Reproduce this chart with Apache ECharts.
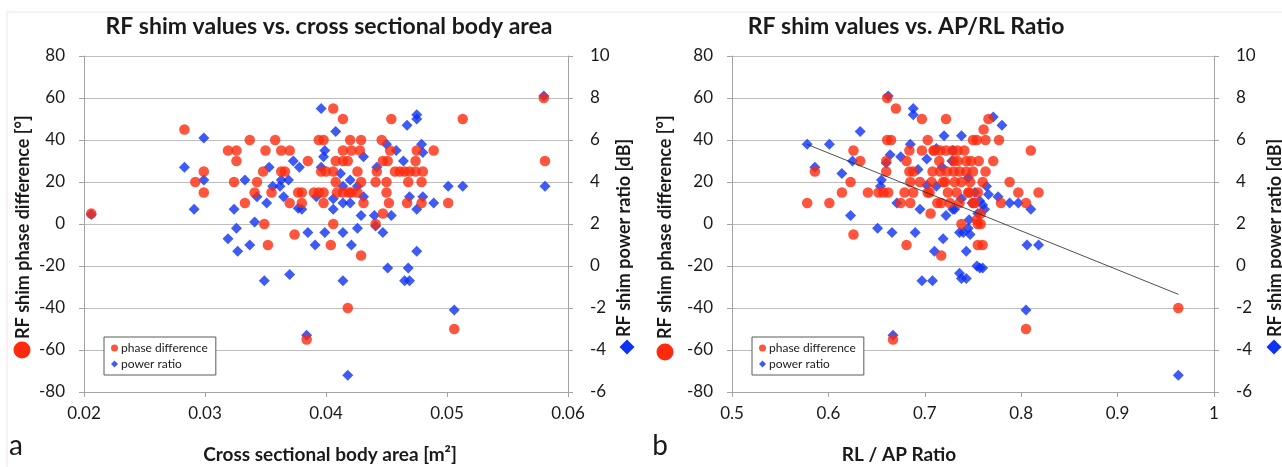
<!DOCTYPE html>
<html>
<head>
<meta charset="utf-8">
<script src="https://cdn.jsdelivr.net/npm/echarts@6/dist/echarts.min.js"></script>
<style>
html,body{margin:0;padding:0;background:#fff;}
#c{width:1282px;height:467px;}
</style>
</head>
<body>
<div id="c"></div>
<script>
// ---- data (panel a: cross sectional body area [m2]) ----
var areaPhase = [
[0.0206,5],[0.0283,45],[0.0292,20],[0.0299,25],[0.0299,15],[0.0319,35],[0.0326,35],[0.0326,30],
[0.0324,20],[0.0333,10],[0.0337,40],[0.0341,15],[0.0343,20],[0.0348,25],[0.0350,35],[0.0349,0],
[0.0352,-10],[0.0355,15],[0.0358,40],[0.0363,35],[0.0370,35],[0.0363,25],[0.0366,25],[0.0370,10],
[0.0374,-5],[0.0377,15],[0.0380,15],[0.0380,10],[0.0385,30],[0.0384,-55],[0.0390,15],[0.0394,15],
[0.0398,15],[0.0394,40],[0.0398,40],[0.0396,25],[0.0400,25],[0.0406,25],[0.0398,10],[0.0404,-10],
[0.0406,55],[0.0406,0],[0.0408,30],[0.0408,20],[0.0409,15],[0.0414,15],[0.0419,15],[0.0421,15],
[0.0426,15],[0.0414,50],[0.0414,35],[0.0421,35],[0.0428,35],[0.0414,30],[0.0418,30],[0.0420,40],
[0.0418,-40],[0.0426,25],[0.0429,40],[0.0429,20],[0.0429,-15],[0.0431,10],[0.0441,20],[0.0441,0],
[0.0442,25],[0.0446,40],[0.0447,30],[0.0447,5],[0.0450,20],[0.0450,15],[0.0451,30],[0.0452,10],
[0.0453,35],[0.0454,50],[0.0457,25],[0.0461,25],[0.0465,25],[0.0469,25],[0.0474,25],[0.0480,25],
[0.0467,10],[0.0468,20],[0.0474,30],[0.0475,35],[0.0479,20],[0.0479,10],[0.0489,35],[0.0501,10],
[0.0506,-50],[0.0513,50],[0.0580,60],[0.0581,30]
];
var areaPower = [
[0.0206,2.45],[0.0283,4.7],[0.0291,2.7],[0.0299,6.1],[0.0299,4.1],[0.0319,1.3],[0.0324,2.7],[0.0326,1.8],
[0.0327,0.7],[0.0333,4.1],[0.0337,1.0],[0.0341,2.1],[0.0343,3.3],[0.0349,-0.7],[0.0351,3.0],[0.0353,4.7],
[0.0356,3.8],[0.0362,3.8],[0.0363,4.1],[0.0365,3.3],[0.0369,4.1],[0.0370,-0.4],[0.0373,5.0],[0.0378,4.7],
[0.0377,2.75],[0.0380,2.7],[0.0384,-3.3],[0.0385,1.6],[0.0391,1.0],[0.0392,3.3],[0.0396,7.5],[0.0396,4.7],
[0.0398,5.2],[0.0399,5.5],[0.0399,1.6],[0.0406,3.2],[0.0406,2.7],[0.0408,6.4],[0.0412,4.4],[0.0414,3.8],
[0.0414,3.0],[0.0414,1.6],[0.0414,-0.7],[0.0418,-5.2],[0.0420,4.1],[0.0420,3.0],[0.0421,1.0],[0.0426,3.8],
[0.0426,1.8],[0.0429,2.4],[0.0431,5.2],[0.0431,3.3],[0.0440,2.4],[0.0441,1.9],[0.0442,4.7],[0.0447,1.6],
[0.0450,5.8],[0.0451,-0.1],[0.0454,2.4],[0.0458,5.5],[0.0464,5.0],[0.0465,-0.7],[0.0467,6.7],[0.0468,-0.1],
[0.0469,3.3],[0.0469,-0.7],[0.0475,7.2],[0.0475,7.0],[0.0475,2.7],[0.0475,0.7],[0.0479,5.8],[0.0480,5.4],
[0.0480,3.3],[0.0489,3.0],[0.0501,3.8],[0.0506,-2.1],[0.0513,3.8],[0.0580,8.1],[0.0581,3.8]
];
// ---- data (panel b: RL / AP ratio) ----
var ratioPhase = [
[0.578,10],[0.586,25],[0.601,10],[0.614,15],[0.623,20],[0.626,35],[0.626,-5],[0.633,30],[0.641,15],
[0.652,15],[0.657,15],[0.662,15],[0.660,30],[0.660,25],[0.661,60],[0.661,40],[0.665,40],[0.667,-55],
[0.670,55],[0.675,10],[0.679,15],[0.681,30],[0.681,-10],[0.684,35],[0.684,25],[0.685,20],[0.685,10],
[0.688,25],[0.688,15],[0.695,20],[0.697,50],[0.697,35],[0.703,40],[0.703,15],[0.705,15],[0.706,5],
[0.707,20],[0.708,25],[0.709,35],[0.710,35],[0.713,10],[0.715,30],[0.716,35],[0.716,25],[0.717,10],
[0.717,-15],[0.719,20],[0.721,20],[0.722,50],[0.722,35],[0.723,25],[0.724,15],[0.726,10],[0.729,35],
[0.730,30],[0.730,25],[0.731,20],[0.733,15],[0.734,30],[0.734,35],[0.736,25],[0.736,10],[0.738,20],
[0.738,0],[0.741,35],[0.743,30],[0.743,25],[0.745,15],[0.746,15],[0.747,20],[0.748,30],[0.750,40],
[0.750,25],[0.750,10],[0.752,10],[0.754,40],[0.754,2],[0.755,15],[0.755,0],[0.755,-10],[0.756,30],
[0.758,5],[0.758,0],[0.760,20],[0.760,-10],[0.761,45],[0.763,40],[0.763,25],[0.766,50],[0.771,30],
[0.777,40],[0.779,10],[0.788,20],[0.797,15],[0.805,10],[0.805,-50],[0.810,35],[0.818,15],[0.963,-40]
];
var ratioPower = [
[0.578,5.8],[0.586,4.7],[0.601,5.8],[0.614,4.4],[0.623,2.4],[0.625,5.0],[0.633,6.4],[0.651,1.8],
[0.655,4.1],[0.654,3.8],[0.660,4.9],[0.662,8.1],[0.664,5.3],[0.666,1.6],[0.667,-3.3],[0.671,3.0],
[0.675,5.2],[0.685,5.8],[0.688,7.5],[0.688,7.2],[0.690,1.6],[0.693,4.6],[0.695,2.7],[0.697,-0.7],
[0.702,5.1],[0.702,3.85],[0.708,-0.7],[0.710,0.7],[0.712,5.6],[0.712,3.8],[0.718,4.7],[0.719,1.3],
[0.720,6.2],[0.722,2.4],[0.728,5.0],[0.729,5.5],[0.729,2.7],[0.731,2.7],[0.736,1.6],[0.736,-0.35],
[0.738,3.2],[0.738,-0.6],[0.738,6.2],[0.740,1.6],[0.743,0.7],[0.743,-0.6],[0.745,4.2],[0.745,1.8],
[0.746,2.2],[0.747,1.5],[0.749,3.0],[0.752,3.5],[0.754,0.0],[0.755,2.5],[0.757,3.1],[0.757,-0.1],
[0.760,2.9],[0.760,-0.1],[0.762,2.7],[0.764,3.8],[0.766,3.4],[0.771,7.1],[0.776,3.3],[0.780,6.7],
[0.788,3.0],[0.797,3.0],[0.805,-2.1],[0.806,1.0],[0.810,2.7],[0.818,1.0],[0.963,-5.2]
];
var trendB = [[0.578,5.79],[0.963,-1.35]];
var phaseTicks = {min:-80, max:80, interval:20};
var powerTicks = {min:-6, max:10, interval:2};

var RED = '#fd2a0e', BLUE = '#0e32f2';
var FF = 'Lato, "Open Sans", sans-serif';
var AX = '#a4a4a4', GRID = '#bdbdbd', TXT = '#1a1a1a';

var chart = echarts.init(document.getElementById('c'), null, {renderer:'canvas'});

function xAx(idx, min, max, iv, fmt){
  return {type:'value', gridIndex:idx, min:min, max:max, interval:iv,
    axisLine:{show:true, onZero:false, lineStyle:{color:AX}},
    axisTick:{show:true, length:5, lineStyle:{color:AX}},
    splitLine:{show:false},
    axisLabel:{fontSize:17, margin:13, color:TXT, fontFamily:FF, formatter:fmt}};
}
function yAx(idx, t, pos, grid){
  return {type:'value', gridIndex:idx, position:pos, min:t.min, max:t.max, interval:t.interval,
    axisLine:{show:true, onZero:false, lineStyle:{color:AX}},
    axisTick:{show:true, length:5, lineStyle:{color:AX}},
    splitLine:{show:grid, lineStyle:{color:GRID, width:1}},
    axisLabel:{fontSize:17, margin:pos==='right'?22:19, color:TXT, fontFamily:FF}};
}
function legendAt(left){
  return {left:left, top:337, orient:'vertical', selectedMode:false,
    data:[{name:'phase difference', icon:'circle'},{name:'power ratio', icon:'diamond'}],
    itemWidth:7, itemHeight:7, itemGap:4, padding:[5,8,5,7],
    borderColor:'#5a5a5a', borderWidth:1, backgroundColor:'#fff',
    textStyle:{fontSize:12, fontFamily:FF, color:TXT, padding:[0,0,0,-2]}};
}
function diamond(cx, cy, r){
  return {type:'polygon', shape:{points:[[cx,cy-r],[cx+r,cy],[cx,cy+r],[cx-r,cy]]}, style:{fill:BLUE}};
}
function vtext(x, y, s){
  return {type:'text', x:x, y:y, rotation:Math.PI/2,
    style:{text:s, fill:TXT, fontSize:18, fontWeight:'bold', fontFamily:FF, align:'left', verticalAlign:'middle'}};
}
function htext(x, y, s, size, bold){
  return {type:'text', x:x, y:y,
    style:{text:s, fill:TXT, fontSize:size, fontWeight:bold?'bold':'normal', fontFamily:FF, align:'center', verticalAlign:'middle'}};
}

var option = {
  animation:false,
  backgroundColor:'#fff',
  title:[
    {text:'RF shim values vs. cross sectional body area', left:324, top:10, textAlign:'center',
     textStyle:{fontSize:23, fontWeight:'bold', fontFamily:FF, color:TXT}},
    {text:'RF shim values vs. AP/RL Ratio', left:901, top:10, textAlign:'center',
     textStyle:{fontSize:23, fontWeight:'bold', fontFamily:FF, color:TXT}}
  ],
  legend:[legendAt(104), legendAt(752)],
  grid:[
    {left:84, top:56, width:484, height:336},
    {left:732, top:56, width:482, height:336}
  ],
  xAxis:[
    xAx(0, 0.02, 0.06, 0.01, function(v){return v.toFixed(2);}),
    xAx(1, 0.5, 1, 0.1, function(v){return v===1?'1':v.toFixed(1);})
  ],
  yAxis:[
    yAx(0, phaseTicks, 'left', true),
    yAx(0, powerTicks, 'right', false),
    yAx(1, phaseTicks, 'left', true),
    yAx(1, powerTicks, 'right', false)
  ],
  series:[
    {name:'power ratio', type:'scatter', xAxisIndex:0, yAxisIndex:1, data:areaPower,
     symbol:'diamond', symbolSize:11, itemStyle:{color:BLUE}},
    {name:'phase difference', type:'scatter', xAxisIndex:0, yAxisIndex:0, data:areaPhase,
     symbol:'circle', symbolSize:10.5, itemStyle:{color:RED}},
    {name:'power ratio', type:'scatter', xAxisIndex:1, yAxisIndex:3, data:ratioPower,
     symbol:'diamond', symbolSize:11, itemStyle:{color:BLUE}},
    {name:'phase difference', type:'scatter', xAxisIndex:1, yAxisIndex:2, data:ratioPhase,
     symbol:'circle', symbolSize:10.5, itemStyle:{color:RED}},
    {type:'line', xAxisIndex:1, yAxisIndex:3, data:trendB, symbol:'none', silent:true,
     lineStyle:{color:'#222', width:0.8}, z:5}
  ],
  graphic:[
    {type:'polyline', shape:{points:[[7,467],[7,12],[1282,12]]}, style:{stroke:'#f3e3e3', lineWidth:1, fill:null}, silent:true},
    vtext(23, 339, 'RF shim phase difference [°]'),
    {type:'circle', shape:{cx:22, cy:350, r:8.5}, style:{fill:RED}},
    vtext(624, 337, 'RF shim power ratio [dB]'),
    diamond(627, 347, 7.5),
    vtext(665, 339, 'RF shim phase difference [°]'),
    {type:'circle', shape:{cx:665, cy:352, r:8.5}, style:{fill:RED}},
    vtext(1275, 337, 'RF shim power ratio [dB]'),
    diamond(1274, 347, 7.5),
    htext(330, 455, 'Cross sectional body area [m²]', 19, true),
    htext(899, 455, 'RL / AP Ratio', 19, true),
    htext(16, 446, 'a', 28, false),
    htext(660, 446, 'b', 28, false)
  ]
};
chart.setOption(option);
</script>
</body>
</html>
